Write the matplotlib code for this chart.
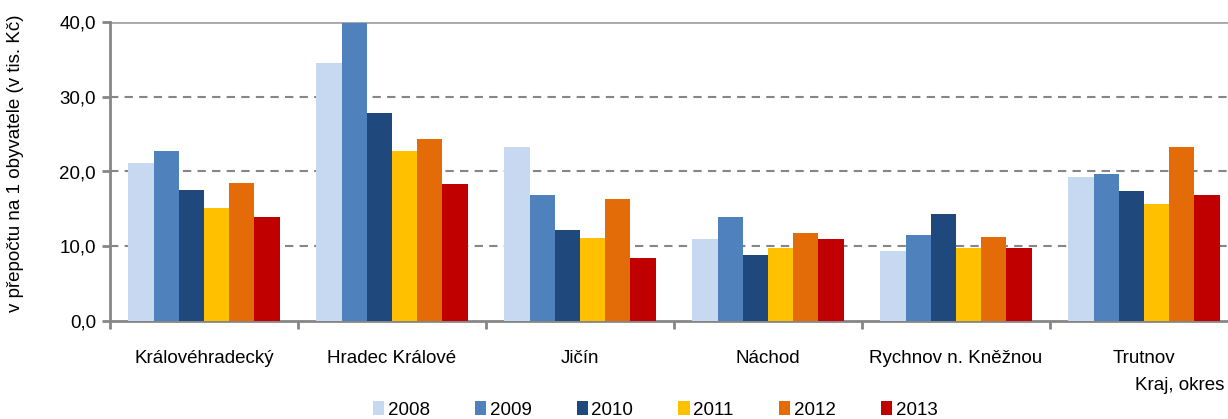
import matplotlib
matplotlib.use("Agg")
import matplotlib.pyplot as plt
import numpy as np

plt.rcParams['font.family'] = ['Liberation Sans', 'DejaVu Sans']

CATEGORIES = ['Královéhradecký', 'Hradec Králové', 'Jičín', 'Náchod',
              'Rychnov n. Kněžnou', 'Trutnov']
YEARS = ['2008', '2009', '2010', '2011', '2012', '2013']

V2008 = [21.1, 34.5, 23.3, 11.0, 9.4, 19.3]
V2009 = [22.7, 39.8, 16.9, 13.9, 11.5, 19.7]
V2010 = [17.5, 27.8, 12.2, 8.8, 14.3, 17.4]
V2011 = [15.1, 22.7, 11.1, 9.8, 9.8, 15.7]
V2012 = [18.5, 24.3, 16.3, 11.8, 11.2, 23.3]
V2013 = [13.9, 18.3, 8.4, 11.0, 9.8, 16.9]

SERIES = [V2008, V2009, V2010, V2011, V2012, V2013]
COLORS = ['#C6D9F0', '#4F81BD', '#1F497D', '#FFC000', '#E36C09', '#C00000']

FS = 13.5

fig = plt.figure(figsize=(12.28, 4.19), dpi=100)
ax = fig.add_axes([110 / 1228, 1 - 321 / 419, 1 - 110 / 1228, 299 / 419])

x = np.arange(len(CATEGORIES))
w = 0.134
for i, (vals, col, yr) in enumerate(zip(SERIES, COLORS, YEARS)):
    ax.bar(x + (i - 2.5) * w, vals, width=w, color=col, label=yr, zorder=3)

ax.set_ylim(0, 40)
ax.set_xlim(-0.5, 5.447)
ax.set_yticks([0, 10, 20, 30, 40])
ax.set_yticklabels(['0,0', '10,0', '20,0', '30,0', '40,0'], fontsize=FS)
for yv in [10, 20, 30]:
    ax.axhline(yv, color='#868686', linestyle=(0, (4, 3)), linewidth=1.5, zorder=1)
ax.axhline(40, color='#A6A6A6', linewidth=2, zorder=1)

ax.set_xticks(np.arange(-0.5, 5.5, 1.0))
ax.set_xticklabels([])
ax.set_xticks(x, minor=True)
ax.set_xticklabels(CATEGORIES, minor=True, fontsize=FS)
ax.tick_params(axis='x', which='minor', length=0, pad=21)
ax.tick_params(axis='x', which='major', length=6, width=2, color='#868686')
ax.tick_params(axis='y', length=6, width=2, color='#868686', pad=4)

for s in ['top', 'right']:
    ax.spines[s].set_visible(False)
for s in ['left', 'bottom']:
    ax.spines[s].set_color('#868686')
    ax.spines[s].set_linewidth(2)

fig.text(16 / 1228, 1 - 163 / 419, 'v přepočtu na 1 obyvatele (v tis. Kč)',
         rotation=90, ha='center', va='center', fontsize=FS)
fig.text(1224 / 1228, 1 - 385 / 419, 'Kraj, okres', ha='right', va='center',
         fontsize=FS)

fig.legend(loc='center', bbox_to_anchor=(655 / 1228, 1 - 410 / 419), ncol=6,
           frameon=False, fontsize=FS, handlelength=0.6, handleheight=0.7,
           handletextpad=0.2, columnspacing=2.4)

fig.savefig('out.png', dpi=100)
